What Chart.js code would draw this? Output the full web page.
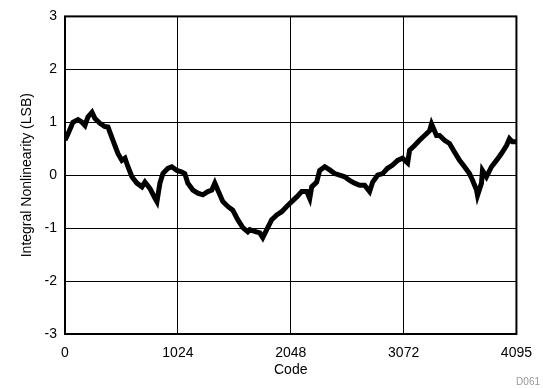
<!DOCTYPE html>
<html>
<head>
<meta charset="utf-8">
<script src="https://cdn.jsdelivr.net/npm/chart.js@4.4.1/dist/chart.umd.min.js"></script>
<style>
  html, body { margin: 0; padding: 0; background: #fff; }
  #wrap { width: 543px; height: 388px; position: relative; }
</style>
</head>
<body>
<div id="wrap"><canvas id="inl_chart_canvas"></canvas></div>
<script>
// values
var codes = [0, 27, 72, 118, 154, 181, 208, 245, 272, 317, 362, 390, 435, 480, 516, 544, 571, 607, 652, 698,
  725, 770, 815, 834, 861, 888, 933, 969, 1015, 1060, 1087, 1114, 1160, 1205, 1250, 1296, 1332, 1359, 1386, 1432,
  1477, 1522, 1567, 1613, 1658, 1676, 1721, 1767, 1794, 1830, 1875, 1921, 1966, 2011, 2057, 2102, 2147, 2193, 2220, 2238,
  2283, 2310, 2356, 2401, 2446, 2492, 2537, 2582, 2627, 2673, 2718, 2763, 2791, 2836, 2881, 2926, 2972, 3017, 3062, 3108,
  3126, 3171, 3216, 3262, 3307, 3325, 3370, 3398, 3443, 3488, 3533, 3579, 3624, 3669, 3696, 3733, 3742, 3778, 3787, 3823,
  3869, 3914, 3959, 4005, 4032, 4059, 4095];
var inl = [0.66, 0.78, 1.0, 1.05, 1.0, 0.94, 1.1, 1.19, 1.07, 0.98, 0.92, 0.91, 0.66, 0.41, 0.28, 0.32, 0.16, -0.03, -0.15, -0.22,
  -0.13, -0.25, -0.43, -0.5, -0.15, 0.03, 0.13, 0.16, 0.09, 0.06, 0.03, -0.15, -0.28, -0.34, -0.37, -0.31, -0.28, -0.15, -0.28, -0.5,
  -0.59, -0.66, -0.84, -0.99, -1.07, -1.03, -1.06, -1.09, -1.18, -1.03, -0.84, -0.75, -0.69, -0.59, -0.5, -0.41, -0.31, -0.31, -0.44, -0.22,
  -0.13, 0.09, 0.16, 0.1, 0.03, 0.0, -0.03, -0.1, -0.15, -0.19, -0.19, -0.31, -0.13, 0.0, 0.03, 0.13, 0.19, 0.28, 0.32, 0.23,
  0.47, 0.56, 0.66, 0.75, 0.84, 0.97, 0.75, 0.75, 0.66, 0.6, 0.44, 0.28, 0.16, 0.03, -0.09, -0.28, -0.38, -0.15, 0.09, -0.03,
  0.16, 0.28, 0.41, 0.56, 0.69, 0.63, 0.63];
var xTicks = [0, 1024, 2048, 3072, 4095];
var yTicks = [-3, -2, -1, 0, 1, 2, 3];

var pts = [];
for (var i = 0; i < codes.length; i++) {
  pts.push({x: codes[i], y: inl[i]});
}

var frame = {
  id: 'frame',
  afterDraw: function(chart) {
    var c = chart.ctx, a = chart.chartArea;
    c.save();
    c.strokeStyle = '#000';
    c.lineWidth = 2;
    c.strokeRect(a.left, a.top, a.right - a.left, a.bottom - a.top);
    c.fillStyle = '#9a9a9a';
    c.font = '10px "Liberation Sans", Arial, sans-serif';
    c.textAlign = 'right';
    c.textBaseline = 'alphabetic';
    c.fillText('D061', 540, 385);
    c.restore();
  }
};

Chart.defaults.font.family = '"Liberation Sans", Arial, sans-serif';
Chart.defaults.color = '#000';

var ctx = document.getElementById('inl_chart_canvas').getContext('2d');
var chart = new Chart(ctx, {
  type: 'line',
  data: {
    datasets: [{
      data: pts,
      borderColor: '#000',
      borderWidth: 5,
      pointRadius: 0,
      tension: 0,
      fill: false
    }]
  },
  options: {
    responsive: true,
    maintainAspectRatio: false,
    animation: false,
    layout: { padding: { left: 19, top: 15, right: 26, bottom: 9 } },
    plugins: { legend: { display: false }, tooltip: { enabled: false } },
    scales: {
      x: {
        type: 'linear',
        min: 0,
        max: 4095,
        afterBuildTicks: function(s) { s.ticks = xTicks.map(function(v) { return {value: v}; }); },
        afterFit: function(s) { s.height = 45; },
        grid: { color: '#000', lineWidth: 1, drawTicks: false },
        border: { display: false },
        ticks: { padding: 11, font: { size: 14 }, maxRotation: 0, callback: function(v) { return String(v); } },
        title: { display: true, text: 'Code', font: { size: 14 }, padding: { top: 0, bottom: 0 } }
      },
      y: {
        min: -3,
        max: 3,
        afterBuildTicks: function(s) { s.ticks = yTicks.map(function(v) { return {value: v}; }); },
        afterFit: function(s) { s.width = 46; },
        grid: { color: '#000', lineWidth: 1, drawTicks: false },
        border: { display: false },
        ticks: { padding: 8, font: { size: 14 }, callback: function(v) { return String(v); } },
        title: { display: true, text: 'Integral Nonlinearity (LSB)', font: { size: 14 }, padding: { top: 0, bottom: 0 } }
      }
    }
  },
  plugins: [frame]
});
</script>
</body>
</html>
